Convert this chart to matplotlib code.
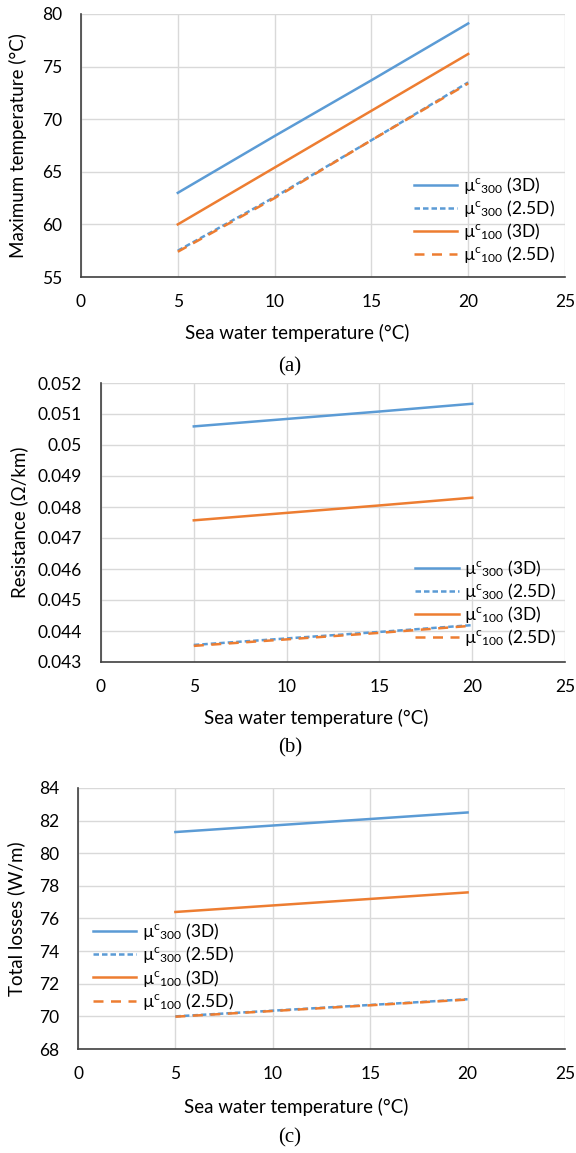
import matplotlib
matplotlib.use('Agg')
import matplotlib.pyplot as plt

# ***************************** data *****************************
sea_temp = [5, 10, 15, 20]

# (a) maximum temperature (degC)
tmax_300_3d = [63.0, 68.4, 73.7, 79.1]
tmax_300_25d = [57.5, 62.6, 68.0, 73.5]
tmax_100_3d = [60.0, 65.4, 70.8, 76.2]
tmax_100_25d = [57.4, 62.5, 68.0, 73.4]

# (b) resistance (Ohm/km)
res_300_3d = [0.05060, 0.05084, 0.05108, 0.05133]
res_300_25d = [0.04355, 0.04376, 0.04397, 0.04419]
res_100_3d = [0.04757, 0.04781, 0.04805, 0.04830]
res_100_25d = [0.04352, 0.04373, 0.04394, 0.04417]

# (c) total losses (W/m)
loss_300_3d = [81.3, 81.7, 82.1, 82.5]
loss_300_25d = [70.0, 70.35, 70.7, 71.05]
loss_100_3d = [76.4, 76.8, 77.2, 77.6]
loss_100_25d = [69.98, 70.33, 70.68, 71.03]

labels = ['µ$^{c}{}_{300}$ (3D)', 'µ$^{c}{}_{300}$ (2.5D)',
          'µ$^{c}{}_{100}$ (3D)', 'µ$^{c}{}_{100}$ (2.5D)']

BLUE = '#5B9BD5'
ORANGE = '#ED7D31'
GRID = '#D9D9D9'
FS = 12.5

plt.rcParams['font.family'] = ['Lato', 'DejaVu Sans']
plt.rcParams['mathtext.fontset'] = 'custom'
plt.rcParams['mathtext.rm'] = 'Lato'
plt.rcParams['mathtext.it'] = 'Lato'
plt.rcParams['mathtext.default'] = 'rm'

W, H = 576, 1153
fig = plt.figure(figsize=(W / 100, H / 100), dpi=100)


def make_axes(left, right, top, bottom):
    return fig.add_axes([left / W, 1 - bottom / H, (right - left) / W, (bottom - top) / H])


def draw_panel(ax, series, ylim, yticks, ylabel, tickfmt, legend_loc, xlab_pos, ylab_x):
    s300, s300b, s100, s100b = series
    ax.plot(sea_temp, s300, color=BLUE, lw=1.8, label=labels[0])
    ax.plot(sea_temp, s300b, color=BLUE, lw=1.8, ls=(0, (2.2, 1.2)), label=labels[1])
    ax.plot(sea_temp, s100, color=ORANGE, lw=1.8, label=labels[2])
    ax.plot(sea_temp, s100b, color=ORANGE, lw=1.8, ls=(0, (4, 3)), label=labels[3])
    ax.set_xlim(0, 25)
    ax.set_ylim(*ylim)
    ax.set_xticks([0, 5, 10, 15, 20, 25])
    ax.set_yticks(yticks)
    ax.set_yticklabels([tickfmt(v) for v in yticks])
    ax.grid(True, color=GRID, lw=1.0)
    ax.set_axisbelow(True)
    for s in ['top', 'right']:
        ax.spines[s].set_visible(False)
    for s in ['left', 'bottom']:
        ax.spines[s].set_color('#404040')
        ax.spines[s].set_linewidth(1.2)
    ax.tick_params(length=0, labelsize=FS, colors='#000000')
    ax.tick_params(axis='x', pad=12.5)
    ax.tick_params(axis='y', pad=13.5)
    ax.set_xlabel('Sea water temperature (°C)', fontsize=13.5)
    ax.xaxis.set_label_coords(*xlab_pos)
    ax.xaxis.label.set_verticalalignment('center')
    ax.set_ylabel(ylabel, fontsize=13.5)
    ax.yaxis.set_label_coords(ylab_x, 0.5)
    ax.yaxis.label.set_verticalalignment('center')
    ax.legend(loc='upper left', bbox_to_anchor=legend_loc, frameon=False, fontsize=FS,
              handlelength=2.5, handletextpad=0.3, labelspacing=0.12,
              borderpad=0, borderaxespad=0)


ax_a = make_axes(81, 565, 14, 277)
draw_panel(ax_a, (tmax_300_3d, tmax_300_25d, tmax_100_3d, tmax_100_25d),
           (55, 80), [55, 60, 65, 70, 75, 80], 'Maximum temperature (°C)',
           lambda v: '%d' % v, (0.688, 0.389), (0.446, -0.212), -0.130)

ax_b = make_axes(101, 565, 383, 662)
draw_panel(ax_b, (res_300_3d, res_300_25d, res_100_3d, res_100_25d),
           (0.043, 0.052), [0.043, 0.044, 0.045, 0.046, 0.047, 0.048, 0.049, 0.05, 0.051, 0.052],
           'Resistance (Ω/km)', lambda v: ('%.3f' % v).rstrip('0'), (0.677, 0.373),
           (0.463, -0.201), -0.177)

ax_c = make_axes(78, 565, 788, 1049)
draw_panel(ax_c, (loss_300_3d, loss_300_25d, loss_100_3d, loss_100_25d),
           (68, 84), [68, 70, 72, 74, 76, 78, 80, 82, 84], 'Total losses (W/m)',
           lambda v: '%d' % v, (0.031, 0.489), (0.448, -0.221), -0.127)

for y, t in [(367, '(a)'), (748, '(b)'), (1138, '(c)')]:
    fig.text(290 / W, 1 - y / H, t, ha='center', va='center', fontsize=15,
             family='Liberation Serif')

fig.savefig('out.png', dpi=100)
